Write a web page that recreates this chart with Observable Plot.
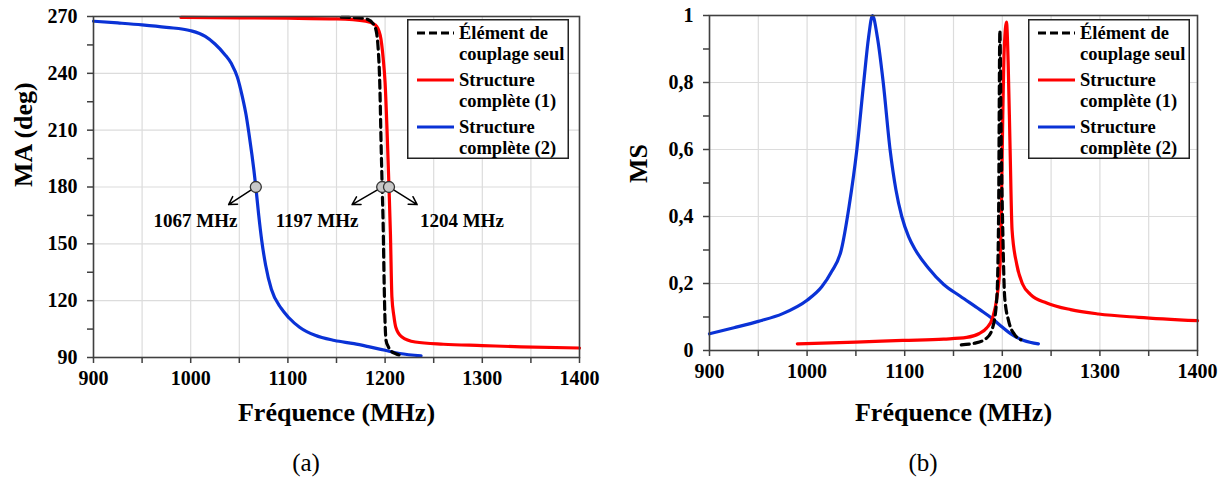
<!DOCTYPE html>
<html>
<head>
<meta charset="utf-8">
<script src="https://cdn.jsdelivr.net/npm/d3@7"></script>
<script src="https://cdn.jsdelivr.net/npm/@observablehq/plot@0.6"></script>
<style>
  html, body { margin: 0; padding: 0; background: #fff; }
  #fig { position: relative; width: 1224px; height: 487px; overflow: hidden; font-family: "Liberation Serif", "DejaVu Serif", serif; }
  .panel { position: absolute; top: 0; width: 612px; height: 440px; }
  .caption { position: absolute; top: 449px; width: 60px; text-align: center; font-family: "Liberation Serif", "DejaVu Serif", serif; font-size: 25px; color: #000; }
  .legend { position: absolute; top: 19px; }
  svg text { font-family: "Liberation Serif", "DejaVu Serif", serif !important; }
</style>
</head>
<body>
<div id="fig">
  <div id="left" class="panel" style="left:0px"></div>
  <div id="right" class="panel" style="left:612px"></div>
  <div class="caption" style="left:276px">(a)</div>
  <div class="caption" style="left:893px">(b)</div>
</div>
<script>
// ---------- data ----------
const seriesNames = ["Élément de couplage seul", "Structure complète (1)", "Structure complète (2)"];
const seriesColors = ["#000000", "#ff0000", "#0a32d6"];

// (a) MA (deg) vs frequency (MHz)
const maFreqCoupling = [1155, 1170, 1182, 1188, 1191, 1193, 1194.5, 1196, 1197, 1198, 1199, 1200, 1201, 1203, 1206, 1211, 1217];
const maCoupling     = [269.6, 269.4, 268.5, 266, 262, 252, 235, 200, 180, 160, 130, 108, 99, 96, 93.5, 92, 91];

const maFreqS1 = [990, 1050, 1100, 1150, 1180, 1190, 1195, 1198, 1200, 1202, 1204, 1205.5, 1207, 1209, 1211, 1217, 1231, 1260, 1300, 1340, 1400];
const maS1     = [269.5, 269.3, 269.1, 268.7, 267.6, 265.5, 260, 248, 235, 210, 180, 155, 122, 112, 106, 101, 98.2, 97, 96.3, 95.6, 95];

const maFreqS2 = [900, 925, 950, 975, 1000, 1015, 1025, 1035, 1042, 1048, 1053, 1057, 1060, 1063, 1065, 1067, 1070, 1073, 1077, 1083, 1093, 1101, 1112, 1128, 1148, 1168, 1184, 1200, 1215, 1237];
const maS2     = [267.5, 266.6, 265.6, 264.3, 262.5, 259.5, 255.5, 250, 245, 238, 228, 218, 208, 197, 189, 180, 165, 152, 139, 126, 116, 111, 106, 101.7, 99, 97.3, 95.6, 93.8, 92.1, 90.9];

// (b) MS vs frequency (MHz)
const msFreqCoupling = [1158, 1172, 1184, 1190, 1194.4, 1196.2, 1197.5, 1199, 1200.5, 1202.5, 1206.6, 1212.8, 1219];
const msCoupling     = [0.017, 0.022, 0.037, 0.067, 0.157, 0.4, 0.955, 0.6, 0.357, 0.157, 0.087, 0.047, 0.032];

const msFreqS1 = [990, 1050, 1098, 1140, 1163.5, 1176, 1184, 1190, 1194.4, 1197.7, 1199.2, 1200.5, 1202, 1204.3, 1206, 1208, 1210, 1214.8, 1221, 1229, 1245.5, 1270, 1298.6, 1339.5, 1400];
const msS1     = [0.02, 0.025, 0.03, 0.034, 0.039, 0.05, 0.067, 0.097, 0.157, 0.257, 0.45, 0.7, 0.9, 0.98, 0.86, 0.6, 0.36, 0.257, 0.197, 0.167, 0.142, 0.122, 0.109, 0.099, 0.089];

const msFreqS2 = [900, 925, 950, 975, 1000, 1015, 1025, 1035, 1043, 1051, 1058, 1063, 1067, 1072, 1078, 1085, 1091, 1097, 1104, 1111, 1124, 1140, 1157, 1177, 1189, 1197, 1210, 1222, 1237];
const msS2     = [0.05, 0.068, 0.087, 0.11, 0.15, 0.19, 0.235, 0.3, 0.43, 0.6, 0.8, 0.935, 1.0, 0.935, 0.8, 0.6, 0.48, 0.4, 0.34, 0.3, 0.247, 0.197, 0.162, 0.122, 0.097, 0.077, 0.047, 0.03, 0.02];

// axes
const freqTicks = [900, 950, 1000, 1050, 1100, 1150, 1200, 1250, 1300, 1350, 1400];
const freqTickLabels = ["900", "", "1000", "", "1100", "", "1200", "", "1300", "", "1400"];
const maTicks = [90, 105, 120, 135, 150, 165, 180, 195, 210, 225, 240, 255, 270];
const maTickLabels = ["90", "", "120", "", "150", "", "180", "", "210", "", "240", "", "270"];
const maGrid = [90, 120, 150, 180, 210, 240, 270];
const msTicks = [0, 0.1, 0.2, 0.3, 0.4, 0.5, 0.6, 0.7, 0.8, 0.9, 1];
const msTickLabels = ["0", "", "0,2", "", "0,4", "", "0,6", "", "0,8", "", "1"];
const msGrid = [0, 0.2, 0.4, 0.6, 0.8, 1];

// annotations on (a)
const annFreq   = [1067, 1197, 1204];
const annPhase  = [180, 180, 180];
const annTipFreq = [1039, 1166, 1233];
const annTipPhase = [170.7, 170.7, 170.7];
const annLabelFreq = [1005, 1130, 1279];
const annLabelPhase = [162, 162, 162];
const annLabels = ["1067 MHz", "1197 MHz", "1204 MHz"];

const xTitle = "Fréquence (MHz)";
const maTitle = "MA (deg)";
const msTitle = "MS";

// ---------- helpers ----------
const FONT = "'Liberation Serif', 'DejaVu Serif', serif";
const zip = (xs, ys) => xs.map((x, i) => ({x, y: ys[i]}));
const frameColor = "#404040";
const gridColor = "#dcdcdc";

function commonMarks(yTicks, yTickLabels, yGrid, yTitle, yTitleDx, xTitleDy) {
  return [
    Plot.gridX(freqTicks, {stroke: gridColor, strokeOpacity: 1, strokeWidth: 1.2}),
    Plot.gridY(yGrid, {stroke: gridColor, strokeOpacity: 1, strokeWidth: 1.2}),
    Plot.axisX({ticks: freqTicks, tickFormat: (d, i) => freqTickLabels[i], tickSize: 6, tickPadding: 7,
      stroke: frameColor, strokeWidth: 1.5, fontSize: 20, fontWeight: "bold", fill: "#000", label: null}),
    Plot.axisY({ticks: yTicks, tickFormat: (d, i) => yTickLabels[i], tickSize: 6, tickPadding: 10,
      stroke: frameColor, strokeWidth: 1.5, fontSize: 20, fontWeight: "bold", fill: "#000", label: null}),
    Plot.text([xTitle], {frameAnchor: "bottom", dy: xTitleDy, text: d => d, fontSize: 26, fontWeight: "bold", fill: "#000"}),
    Plot.text([yTitle], {frameAnchor: "left", dx: yTitleDx, rotate: -90, text: d => d, fontSize: 26, fontWeight: "bold", fill: "#000"})
  ];
}

function seriesMarks(sets) {
  return [
    Plot.line(sets[2], {x: "x", y: "y", stroke: seriesColors[2], strokeWidth: 3.2, curve: "monotone-x"}),
    Plot.line(sets[1], {x: "x", y: "y", stroke: seriesColors[1], strokeWidth: 3.2, curve: "monotone-x"}),
    Plot.line(sets[0], {x: "x", y: "y", stroke: seriesColors[0], strokeWidth: 3.2, strokeDasharray: "8,5", curve: "monotone-x"})
  ];
}

// ---------- (a) ----------
const annData = annFreq.map((f, i) => ({f, p: annPhase[i], tf: annTipFreq[i], tp: annTipPhase[i], lf: annLabelFreq[i], lp: annLabelPhase[i], label: annLabels[i]}));

const left = Plot.plot({
  width: 612, height: 440,
  marginLeft: 93, marginRight: 33, marginTop: 16, marginBottom: 83,
  style: {fontFamily: FONT, background: "transparent", overflow: "visible"},
  x: {domain: [900, 1400], label: null},
  y: {domain: [90, 270], label: null},
  marks: [
    ...commonMarks(maTicks, maTickLabels, maGrid, maTitle, -70, 63),
    ...seriesMarks([zip(maFreqCoupling, maCoupling), zip(maFreqS1, maS1), zip(maFreqS2, maS2)]),
    Plot.frame({stroke: frameColor, strokeWidth: 1.6}),
    Plot.arrow(annData, {x1: "f", y1: "p", x2: "tf", y2: "tp", stroke: "#000", strokeWidth: 1.5, headLength: 9, insetStart: 5}),
    Plot.dot(annData, {x: "f", y: "p", r: 5.5, fill: "#c8c8c8", stroke: "#333", strokeWidth: 1.3}),
    Plot.text(annData, {x: "lf", y: "lp", text: "label", fontSize: 19, fontWeight: "bold", fill: "#000"})
  ]
});
document.getElementById("left").appendChild(left);

// ---------- (b) ----------
const right = Plot.plot({
  width: 612, height: 440,
  marginLeft: 97, marginRight: 27, marginTop: 15, marginBottom: 90,
  style: {fontFamily: FONT, background: "transparent", overflow: "visible"},
  x: {domain: [900, 1400], label: null},
  y: {domain: [0, 1], label: null},
  marks: [
    ...commonMarks(msTicks, msTickLabels, msGrid, msTitle, -71, 70),
    ...seriesMarks([zip(msFreqCoupling, msCoupling), zip(msFreqS1, msS1), zip(msFreqS2, msS2)]),
    Plot.frame({stroke: frameColor, strokeWidth: 1.6})
  ]
});
document.getElementById("right").appendChild(right);

// ---------- legends ----------
const legendLines = [["Élément de", "couplage seul"], ["Structure", "complète (1)"], ["Structure", "complète (2)"]];
function buildLegend(leftPx) {
  const W = 162, H = 140;
  const svg = d3.create("svg").attr("class", "legend").attr("width", W).attr("height", H)
    .style("left", leftPx + "px").style("font-family", FONT);
  svg.append("rect").attr("x", 0.75).attr("y", 0.75).attr("width", W - 1.5).attr("height", H - 1.5)
    .attr("fill", "#fff").attr("stroke", "#222").attr("stroke-width", 1.5);
  const rowY = [14, 61, 108];
  legendLines.forEach((lines, i) => {
    svg.append("line").attr("x1", 10).attr("x2", 47).attr("y1", rowY[i]).attr("y2", rowY[i])
      .attr("stroke", seriesColors[i]).attr("stroke-width", 3.2)
      .attr("stroke-dasharray", i === 0 ? "8,4" : null);
    lines.forEach((t, j) => {
      svg.append("text").attr("x", 52).attr("y", rowY[i] + 6 + j * 21)
        .attr("font-size", 18.5).attr("font-weight", "bold").attr("fill", "#000").text(t);
    });
  });
  document.getElementById("fig").appendChild(svg.node());
}
buildLegend(407);
buildLegend(1028);
</script>
</body>
</html>
